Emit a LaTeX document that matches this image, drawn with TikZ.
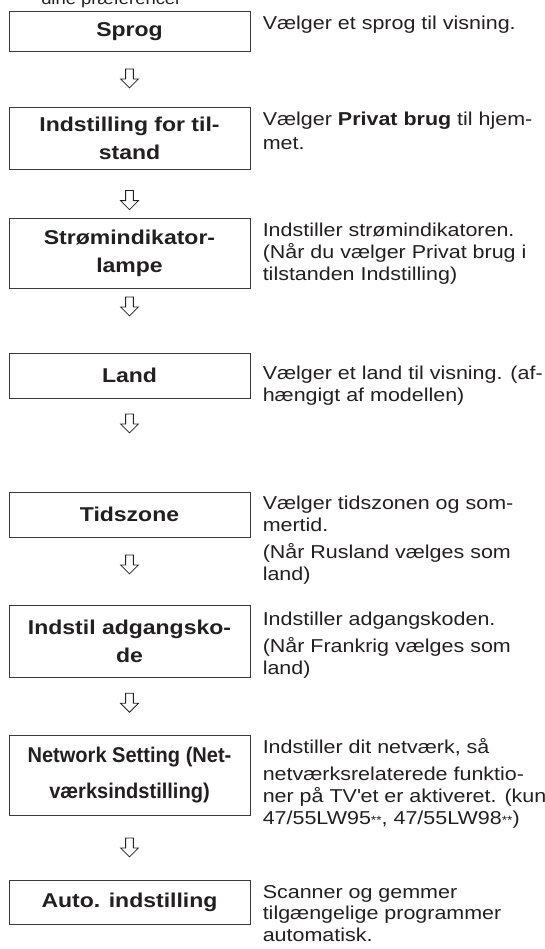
\documentclass[tikz,border=0pt]{standalone}
\usepackage{fontspec}
\setmainfont{Liberation Sans}[FakeStretch=1.15]
\newfontfamily\netfont{Liberation Sans}[FakeStretch=0.94]
\usepackage{tikz}
\usetikzlibrary{positioning, shapes.arrows}
\definecolor{LG_Ink}{HTML}{231F20}
\definecolor{LG_Frame}{HTML}{3A3A3A}

\begin{document}
\begin{tikzpicture}[
  every node/.style={text=LG_Ink},
  stepbox/.style={draw=LG_Frame, line width=0.75pt, minimum width=180.75pt, minimum height=#1, inner sep=0pt, align=center, font=\fontsize{15}{21}\selectfont\bfseries},
  stepbox/.default=30pt,
  desc/.style={anchor=north west, inner sep=0pt, align=left, font=\fontsize{14}{16.3}\selectfont},
  down/.style={draw=LG_Ink, line width=0.6pt, single arrow, shape border rotate=270, minimum height=14.25pt, minimum width=12.75pt, inner sep=2.6pt, single arrow head extend=3.8pt},
]
  \clip (0,0) rectangle (408pt,-711.75pt);

  % Intro line, cut at the top
  \node[anchor=base west, inner sep=0pt, font=\fontsize{12}{14}\selectfont] (intro) at (30.75pt,-3.75pt) {dine præferencer};

  % Steps
  \node[stepbox=30pt] (sprog) at (97.125pt,-24pt) {Sprog};
  \node[stepbox=46.5pt, below=41pt of sprog] (tilstand) {Indstilling for til-\\stand};
  \node[stepbox=52.5pt, below=35.5pt of tilstand] (lampe) {Strømindikator-\\lampe};
  \node[stepbox=33.75pt, below=48pt of lampe] (land) {Land};
  \node[stepbox=33.75pt, below=69.75pt of land] (tidszone) {Tidszone};
  \node[stepbox=54pt, below=50.5pt of tidszone] (kode) {Indstil adgangsko-\\de};
  \node[stepbox=60pt, below=42.5pt of kode, font=\fontsize{16}{27}\selectfont\netfont\bfseries] (netvaerk) {Network Setting (Net-\\værksindstilling)};
  \node[stepbox=33pt, below=48pt of netvaerk] (auto) {Auto. indstilling};

  % Arrows between steps
  \node[down, below=12pt of sprog] (a1) {};
  \node[down, below=15pt of tilstand] (a2) {};
  \node[down, below=6pt of lampe] (a3) {};
  \node[down, below=11.25pt of land] (a4) {};
  \node[down, below=12.75pt of tidszone] (a5) {};
  \node[down, below=11.25pt of kode] (a6) {};
  \node[down, below=16.5pt of netvaerk] (a7) {};

  % Descriptions
  \node[desc] (sprogtxt) at ([xshift=9pt, yshift=-3.3pt]sprog.north east) {Vælger et sprog til visning.};
  \node[desc] (tilstandtxt) at ([xshift=9pt, yshift=-3.3pt]tilstand.north east) {Vælger \textbf{Privat brug} til hjem-\\[2pt]met.};
  \node[desc] (lampetxt) at ([xshift=9pt, yshift=-4pt]lampe.north east) {Indstiller strømindikatoren.\\(Når du vælger Privat brug i\\tilstanden Indstilling)};
  \node[desc] (landtxt) at ([xshift=9pt, yshift=-10pt]land.north east) {Vælger et land til visning. (af-\\hængigt af modellen)};
  \node[desc] (tidszonetxt) at ([xshift=9pt, yshift=-3.3pt]tidszone.north east) {Vælger tidszonen og som-\\mertid.\\[4pt](Når Rusland vælges som\\land)};
  \node[desc] (kodetxt) at ([xshift=9pt, yshift=-4.8pt]kode.north east) {Indstiller adgangskoden.\\[4.5pt](Når Frankrig vælges som\\land)};
  \node[desc] (netvaerktxt) at ([xshift=9pt, yshift=-2.5pt]netvaerk.north east) {Indstiller dit netværk, så\\[4.5pt]netværksrelaterede funktio-\\ner på TV\textquotesingle et er aktiveret. (kun\\47/55LW95{\fontsize{9}{9}\selectfont**}, 47/55LW98{\fontsize{9}{9}\selectfont**})};
  \node[desc] (autotxt) at ([xshift=9pt, yshift=-4pt]auto.north east) {Scanner og gemmer\\tilgængelige programmer\\automatisk.};
\end{tikzpicture}
\end{document}
